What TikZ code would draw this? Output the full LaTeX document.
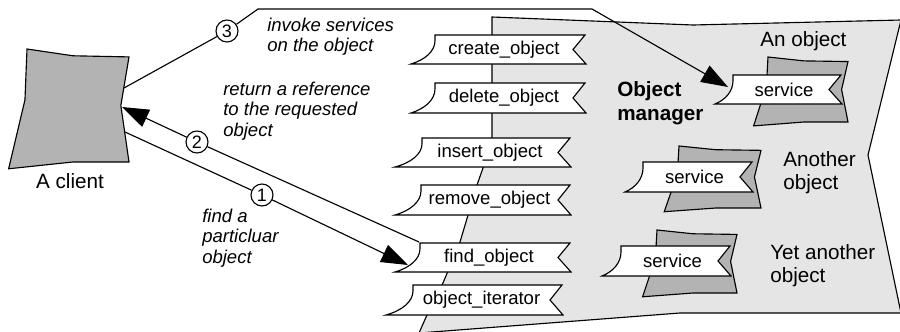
\documentclass[tikz,border=0pt]{standalone}
\usepackage{fontspec}
\setmainfont{Liberation Sans}
\usetikzlibrary{arrows.meta}
\pgfdeclarelayer{back}
\pgfdeclarelayer{mid}
\pgfsetlayers{back,mid,main}
\definecolor{mgrgray}{RGB}{229,229,229}
\definecolor{objgray}{RGB}{179,179,179}
\tikzset{
  thinline/.style={draw=black, line width=0.85pt, line join=miter},
  bannerline/.style={thinline, fill=white},
  objfill/.style={thinline, fill=objgray},
  mgrfill/.style={thinline, fill=mgrgray},
  conn/.style={thinline},
  arr/.style={conn, -{Triangle[length=20pt,width=14pt]}},
  tagtext/.style={inner sep=0pt, font=\fontsize{13.9pt}{15.4pt}\selectfont},
  lbl/.style={inner sep=0pt, align=left, font=\itshape\fontsize{13.9pt}{15.4pt}\selectfont},
  biglbl/.style={inner sep=0pt, align=left, font=\fontsize{15.5pt}{17.3pt}\selectfont},
  numcirc/.style={circle, thinline, fill=white, minimum size=16.5pt, inner sep=0pt, font=\fontsize{13.5pt}{15pt}\selectfont}
}
% banner: name, L, R, T, B, flare, text, text x-offset
\newcommand\banner[8]{%
  \begin{pgfonlayer}{mid}
  \draw[bannerline] (#2,#4) -- (#3,#4) -- ({#3-12},{(#4+#5)/2}) -- ({#3+1},#5) -- ({#2-#6},#5)
    .. controls ({#2-0.4*#6},{#5-0.15*(#5-#4)}) and (#2,{#5-0.45*(#5-#4)}) .. (#2,{#4+0.2*(#5-#4)}) -- cycle;
  \end{pgfonlayer}
  \node[tagtext] (#1) at ({(#2+#3)/2+#8},{(#4+#5)/2}) {#7};
  \coordinate (#1-nw) at (#2,#4);
}
% gray object: x, y, w, h
\newcommand\grayobj[4]{%
  \begin{pgfonlayer}{back}
  \draw[objfill] (#1,#2) -- ({#1+0.45*#3},{#2+0.06*#4}) -- ({#1+#3},{#2+0.07*#4})
    -- ({#1+0.92*#3},{#2+0.5*#4}) -- ({#1+#3},{#2+#4}) -- ({#1+0.45*#3},{#2+#4})
    -- ({#1-0.18*#3},{#2+1.06*#4}) -- ({#1-0.02*#3},{#2+0.45*#4}) -- cycle;
  \end{pgfonlayer}
}
\begin{document}
\begin{tikzpicture}[x=0.75pt,y=-0.75pt]
\useasboundingbox (0,0) rectangle (900,332);
% object manager area
\begin{pgfonlayer}{back}
\draw[mgrfill] (492,17) -- (693,25) -- (901,20) -- (868,155) -- (901,313) -- (680,313) -- (419,333)
  -- (427,315) -- (443,283) -- (460,242) -- (477,185) -- (483,168) -- (492,140) -- cycle;
\end{pgfonlayer}
% client and objects
\grayobj{27}{49}{102}{113}
\grayobj{768}{57}{80}{65}
\grayobj{679}{146}{82}{62}
\grayobj{657}{230}{80}{63}
% banners
\banner{create}{435}{585}{35}{64}{24}{create\_object}{-6}
\banner{delete}{435}{585}{83}{113}{24}{delete\_object}{-6}
\banner{insert}{422}{570}{138}{167}{27}{insert\_object}{-6}
\banner{remove}{421}{570}{185}{215}{26}{remove\_object}{-6}
\banner{find}{420}{570}{243}{272}{25}{find\_object}{-6}
\banner{iter}{413}{562}{285}{315}{27}{object\_iterator}{-6}
\banner{svc1}{733}{841}{75}{104}{18}{service}{-3}
\banner{svc2}{643}{752}{162}{192}{18}{service}{-3}
\banner{svc3}{621}{730}{246}{276}{19}{service}{-3}
% labels
\node[biglbl] (clientlbl) at (70,181.5) {A client};
\node[biglbl, anchor=west] (anobj) at (760,41) {An object};
\node[biglbl, anchor=west, font=\bfseries\fontsize{15.5pt}{18pt}\selectfont] (mgrlbl) at (617,103) {Object\\manager};
\node[biglbl, anchor=west] (another) at (783,173) {Another\\object};
\node[biglbl, anchor=west] (yetanother) at (770,265.5) {Yet another\\object};
\node[lbl, anchor=west] (l3) at (267,36.5) {invoke services\\on the object};
\node[lbl, anchor=west] (l2) at (223,111) {return a reference\\to the requested\\object};
\node[lbl, anchor=west] (l1) at (202,238) {find a\\particluar\\object};
% connector points
\coordinate (cl-r1) at (124,88);
\coordinate (cl-r2) at (122,107);
\coordinate (cl-r3) at (125,132);
\coordinate (k3a) at (258,9);
\coordinate (k3b) at (592,9);
\coordinate (find-flare) at (408,265);
\coordinate (svc1-flare) at (728,87);
\coordinate (find-start) at (419,242);
% numbered circles
\node[numcirc] (c3) at (227,31) {3};
\node[numcirc] (c2) at (197,142) {2};
\node[numcirc] (c1) at (262,195) {1};
% connectors
\draw[arr] (cl-r1) -- (c3) -- (k3a) -- (k3b) -- (svc1-flare);
\draw[arr] (find-start) -- (c2) -- (cl-r2);
\draw[arr] (cl-r3) -- (c1) -- (find-flare);
\end{tikzpicture}
\end{document}
